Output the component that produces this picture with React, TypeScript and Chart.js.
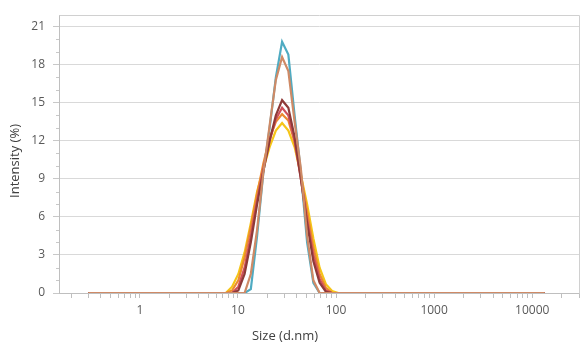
import React, { useEffect, useRef } from 'react';
import { Chart, registerables } from 'chart.js';

Chart.register(...registerables);

// Size classes (d.nm)
const sizes = [
  0.2982, 0.3454, 0.4, 0.4632, 0.5365, 0.6213, 0.7195, 0.8332, 0.9649, 1.117,
  1.294, 1.499, 1.736, 2.01, 2.328, 2.696, 3.122, 3.615, 4.187, 4.849,
  5.615, 6.503, 7.531, 8.721, 10.1, 11.7, 13.54, 15.69, 18.17, 21.04,
  24.36, 28.21, 32.67, 37.84, 43.82, 50.75, 58.77, 68.06, 78.82, 91.28,
  105.7, 122.4, 141.8, 164.2, 190.1, 220.2, 255, 295.3, 342, 396.1,
  458.7, 531.2, 615.1, 712.4, 825, 955.4, 1106, 1281, 1484, 1718,
  1990, 2305, 2669, 3091, 3580, 4145, 4801, 5560, 6439, 7456,
  8635, 10000, 11580, 13410,
];

const tealValues = [
  0, 0, 0, 0, 0, 0, 0, 0, 0, 0,
  0, 0, 0, 0, 0, 0, 0, 0, 0, 0,
  0, 0, 0, 0, 0, 0, 0.3, 4.5, 9.5, 13,
  17, 19.8, 18.8, 14, 9.5, 4, 0.8, 0, 0, 0,
  0, 0, 0, 0, 0, 0, 0, 0, 0, 0,
  0, 0, 0, 0, 0, 0, 0, 0, 0, 0,
  0, 0, 0, 0, 0, 0, 0, 0, 0, 0,
  0, 0, 0, 0,
];

const tanValues = [
  0, 0, 0, 0, 0, 0, 0, 0, 0, 0,
  0, 0, 0, 0, 0, 0, 0, 0, 0, 0,
  0, 0, 0, 0, 0, 0, 1.5, 5, 9.5, 13.2,
  16.8, 18.6, 17.5, 13.5, 9.8, 4.5, 1.0, 0, 0, 0,
  0, 0, 0, 0, 0, 0, 0, 0, 0, 0,
  0, 0, 0, 0, 0, 0, 0, 0, 0, 0,
  0, 0, 0, 0, 0, 0, 0, 0, 0, 0,
  0, 0, 0, 0,
];

const darkRedValues = [
  0, 0, 0, 0, 0, 0, 0, 0, 0, 0,
  0, 0, 0, 0, 0, 0, 0, 0, 0, 0,
  0, 0, 0, 0, 0.2, 1.5, 4, 7, 9.6, 12,
  14, 15.2, 14.6, 12.3, 9, 5.5, 2.5, 0.8, 0.1, 0,
  0, 0, 0, 0, 0, 0, 0, 0, 0, 0,
  0, 0, 0, 0, 0, 0, 0, 0, 0, 0,
  0, 0, 0, 0, 0, 0, 0, 0, 0, 0,
  0, 0, 0, 0,
];

const redValues = [
  0, 0, 0, 0, 0, 0, 0, 0, 0, 0,
  0, 0, 0, 0, 0, 0, 0, 0, 0, 0,
  0, 0, 0, 0, 0.5, 2, 4.5, 7.3, 9.8, 12,
  13.7, 14.6, 14, 12, 9, 5.8, 3, 1.1, 0.2, 0,
  0, 0, 0, 0, 0, 0, 0, 0, 0, 0,
  0, 0, 0, 0, 0, 0, 0, 0, 0, 0,
  0, 0, 0, 0, 0, 0, 0, 0, 0, 0,
  0, 0, 0, 0,
];

const orangeValues = [
  0, 0, 0, 0, 0, 0, 0, 0, 0, 0,
  0, 0, 0, 0, 0, 0, 0, 0, 0, 0,
  0, 0, 0, 0.2, 1, 2.8, 5.2, 7.8, 10.2, 12.2,
  13.5, 14.1, 13.6, 11.9, 9.3, 6.4, 3.6, 1.5, 0.4, 0,
  0, 0, 0, 0, 0, 0, 0, 0, 0, 0,
  0, 0, 0, 0, 0, 0, 0, 0, 0, 0,
  0, 0, 0, 0, 0, 0, 0, 0, 0, 0,
  0, 0, 0, 0,
];

const yellowValues = [
  0, 0, 0, 0, 0, 0, 0, 0, 0, 0,
  0, 0, 0, 0, 0, 0, 0, 0, 0, 0,
  0, 0, 0, 0.5, 1.5, 3.2, 5.5, 8, 9.8, 11.5,
  12.8, 13.4, 12.8, 11.5, 9.3, 7, 4.3, 2, 0.7, 0.15,
  0, 0, 0, 0, 0, 0, 0, 0, 0, 0,
  0, 0, 0, 0, 0, 0, 0, 0, 0, 0,
  0, 0, 0, 0, 0, 0, 0, 0, 0, 0,
  0, 0, 0, 0,
];

const yTickValues = [0, 3, 6, 9, 12, 15, 18, 21];
const xMajorTicks = [1, 10, 100, 1000, 10000];
const xTitle = 'Size (d.nm)';
const yTitle = 'Intensity (%)';

const FONT = "'Open Sans', 'Noto Sans', sans-serif";

const decorPlugin = {
  id: 'decor',
  afterDraw(chart: any) {
    const { ctx, chartArea } = chart;
    const y = chart.scales.y;
    ctx.save();
    // frame (top and right)
    ctx.strokeStyle = '#d0d0d0';
    ctx.lineWidth = 1;
    ctx.beginPath();
    ctx.moveTo(Math.round(chartArea.left) + 0.5, Math.round(chartArea.top) + 0.5);
    ctx.lineTo(Math.round(chartArea.right) + 0.5, Math.round(chartArea.top) + 0.5);
    ctx.lineTo(Math.round(chartArea.right) + 0.5, Math.round(chartArea.bottom) + 0.5);
    ctx.stroke();
    // y minor ticks
    ctx.strokeStyle = '#c8c8c8';
    ctx.beginPath();
    for (let v = 1; v <= 21; v++) {
      if (v % 3 === 0) continue;
      const py = Math.round(y.getPixelForValue(v)) + 0.5;
      ctx.moveTo(chartArea.left - 3, py);
      ctx.lineTo(chartArea.left, py);
    }
    ctx.stroke();
    // titles
    ctx.fillStyle = '#404040';
    ctx.font = `13px ${FONT}`;
    ctx.textAlign = 'center';
    ctx.textBaseline = 'middle';
    ctx.fillText(xTitle, 285, 336);
    ctx.translate(15, 161);
    ctx.rotate(-Math.PI / 2);
    ctx.fillText(yTitle, 0, 0);
    ctx.restore();
  },
};

export default function App() {
  const ref = useRef<HTMLCanvasElement>(null);

  useEffect(() => {
    const pts = (vals: number[]) => sizes.map((s, i) => ({ x: s, y: vals[i] }));
    const ds = (label: string, vals: number[], color: string) => ({
      label,
      data: pts(vals),
      borderColor: color,
      backgroundColor: color,
      borderWidth: 2.2,
      pointRadius: 0,
      fill: false,
      tension: 0,
    });

    // first dataset is drawn on top
    const chart = new Chart(ref.current as HTMLCanvasElement, {
      type: 'line',
      data: {
        datasets: [
          ds('Record 2', tanValues, '#cf8a66'),
          ds('Record 3', darkRedValues, '#8e3a38'),
          ds('Record 4', redValues, '#d0505a'),
          ds('Record 5', orangeValues, '#ec8a30'),
          ds('Record 6', yellowValues, '#f5c518'),
          ds('Record 1', tealValues, '#4fabc2'),
        ],
      },
      options: {
        animation: false,
        responsive: false,
        layout: { padding: { top: 4, right: 9, left: 0, bottom: 0 } },
        plugins: { legend: { display: false }, tooltip: { enabled: false } },
        scales: {
          x: {
            type: 'logarithmic',
            min: 0.15,
            max: 30000,
            afterBuildTicks: (scale: any) => {
              const t: { value: number }[] = [];
              for (const d of [0.1, 1, 10, 100, 1000, 10000]) {
                for (let m = 1; m <= 9; m++) {
                  const v = m * d;
                  if (v >= 0.15 && v <= 30000) t.push({ value: v });
                }
              }
              scale.ticks = t;
            },
            afterFit: (scale: any) => {
              scale.height = 56;
            },
            grid: { drawOnChartArea: false, tickLength: 5, color: '#bfbfbf' },
            border: { color: '#bfbfbf' },
            ticks: {
              autoSkip: false,
              maxRotation: 0,
              padding: 5,
              color: '#595959',
              font: { family: FONT, size: 12 },
              callback: (v: any) => {
                const n = Number(v);
                const hit = xMajorTicks.find((m) => Math.abs(m - n) / m < 1e-6);
                return hit !== undefined ? String(hit) : '';
              },
            },
          },
          y: {
            min: 0,
            max: 21.9,
            afterBuildTicks: (scale: any) => {
              scale.ticks = yTickValues.map((v) => ({ value: v }));
            },
            afterFit: (scale: any) => {
              scale.width = 59;
            },
            grid: { color: '#d9d9d9', tickColor: '#c8c8c8', tickLength: 6 },
            border: { color: '#bfbfbf' },
            ticks: {
              padding: 8,
              color: '#595959',
              font: { family: FONT, size: 12 },
            },
          },
        },
      },
      plugins: [decorPlugin],
    });

    return () => chart.destroy();
  }, []);

  return (
    <div style={{ position: 'fixed', left: 0, top: 0, width: 588, height: 349, background: '#fff' }}>
      <canvas ref={ref} width={588} height={349} style={{ display: 'block', width: 588, height: 349 }} />
    </div>
  );
}
